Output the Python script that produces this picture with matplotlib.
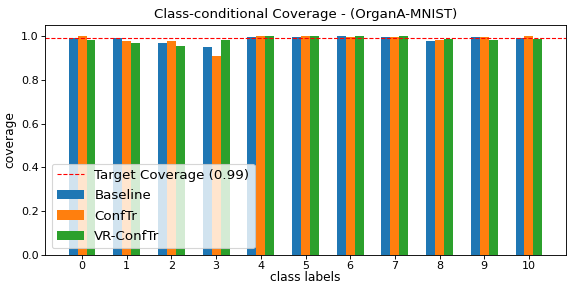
import numpy as np
import matplotlib
matplotlib.use("Agg")
import matplotlib.pyplot as plt

classes = list(range(11))
baseline = [0.992, 0.992, 0.968, 0.950, 0.995, 0.995, 1.000, 0.997, 0.979, 0.995, 0.992]
conftr = [1.000, 0.979, 0.979, 0.909, 1.000, 1.000, 0.995, 0.997, 0.983, 0.995, 1.000]
vr_conftr = [0.982, 0.968, 0.953, 0.980, 1.000, 1.000, 1.000, 1.000, 0.986, 0.983, 0.988]
target = 0.99

x = np.arange(len(classes))
w = 0.2

W, H = 567, 286
fig = plt.figure(figsize=(W / 80, H / 80), dpi=80)
ax = fig.add_axes([45 / W, 31 / H, 521 / W, 230 / H])

ax.axhline(target, color='red', linestyle='--', linewidth=1, label='Target Coverage (0.99)')
ax.bar(x - w, baseline, w, label='Baseline', color='#1f77b4')
ax.bar(x, conftr, w, label='ConfTr', color='#ff7f0e')
ax.bar(x + w, vr_conftr, w, label='VR-ConfTr', color='#2ca02c')

ax.set_xticks(x)
ax.set_xticklabels([str(c) for c in classes])
ax.tick_params(labelsize=10, pad=2)
ax.set_xlabel('class labels', fontsize=11, labelpad=0)
ax.set_ylabel('coverage', fontsize=11)
ax.set_title('Class-conditional Coverage - (OrganA-MNIST)', fontsize=12)
ax.legend(loc='lower left', fontsize=12, labelspacing=0.55)

fig.savefig('out.png', dpi=80)
